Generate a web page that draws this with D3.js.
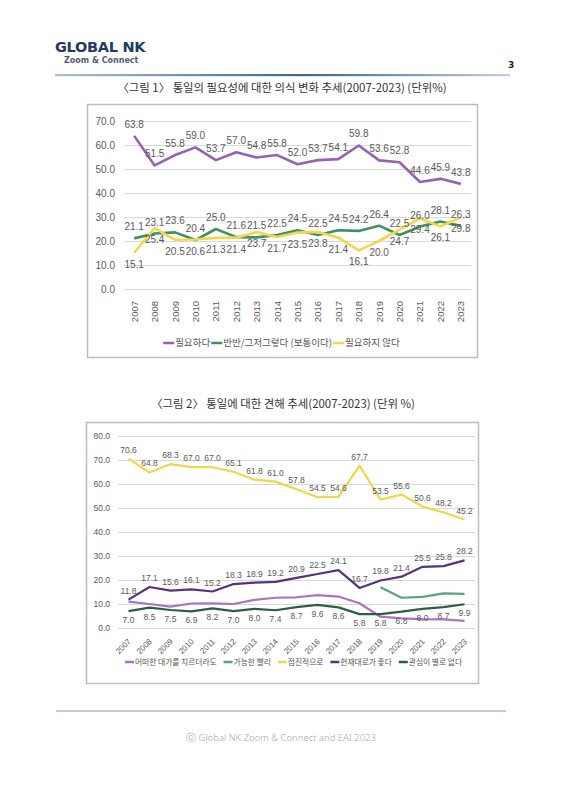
<!DOCTYPE html>
<html><head><meta charset="utf-8">
<script src="https://cdn.jsdelivr.net/npm/d3@7"></script>
<style>body{margin:0;background:#fff}svg{display:block}</style>
</head><body>
<script>
// ---------- DATA ----------
const years = ["2007","2008","2009","2010","2011","2012","2013","2014","2015","2016","2017","2018","2019","2020","2021","2022","2023"];
// Chart 1
const need      = [63.8,51.5,55.8,59.0,53.7,57.0,54.8,55.8,52.0,53.7,54.1,59.8,53.6,52.8,44.6,45.9,43.8];
const neutral   = [21.1,23.1,23.6,20.4,25.0,21.6,21.5,22.5,24.5,22.5,24.5,24.2,26.4,22.5,26.0,28.1,26.3];
const noNeed    = [15.1,25.4,20.5,20.6,21.3,21.4,23.7,21.7,23.5,23.8,21.4,16.1,20.0,24.7,29.4,26.1,29.8];
const yTicks1   = [0,10,20,30,40,50,60,70];
const names1    = ["필요하다","반반/그저그렇다 (보통이다)","필요하지 않다"];
// Chart 2
const anyCost   = [11.0,10.0,8.9,10.2,10.3,10.0,11.7,12.6,12.8,13.7,13.1,10.3,4.7,4.0,3.7,3.6,3.0];
const asap      = [null,null,null,null,null,null,null,null,null,null,null,null,17.0,12.6,13.0,14.4,14.2];
const gradual   = [70.6,64.8,68.3,67.0,67.0,65.1,61.8,61.0,57.8,54.5,54.6,67.7,53.5,55.6,50.6,48.2,45.2];
const statusQuo = [11.8,17.1,15.6,16.1,15.2,18.3,18.9,19.2,20.9,22.5,24.1,16.7,19.8,21.4,25.5,25.8,28.2];
const noInterest= [7.0,8.5,7.5,6.9,8.2,7.0,8.0,7.4,8.7,9.6,8.6,5.8,5.8,6.8,8.0,8.7,9.9];
const yTicks2   = [0,10,20,30,40,50,60,70,80];
const names2    = ["어떠한 대가를 치르더라도","가능한 빨리","점진적으로","현재대로가 좋다","관심이 별로 없다"];

// ---------- PAGE ----------
const W = 566, H = 800;
const svg = d3.select("body").append("svg").attr("width", W).attr("height", H);
svg.append("rect").attr("width", W).attr("height", H).attr("fill", "#fff");
const KR = "'Noto Sans CJK KR','Noto Sans',sans-serif";
const LAT = "'Liberation Sans',Arial,Helvetica,sans-serif";

// header
const defs = svg.append("defs");
const g1 = defs.append("linearGradient").attr("id","hdr").attr("x1","0%").attr("x2","100%");
g1.append("stop").attr("offset","0%").attr("stop-color","#aebfd0");
g1.append("stop").attr("offset","55%").attr("stop-color","#3d6690");
g1.append("stop").attr("offset","100%").attr("stop-color","#c3d0dc");
svg.append("text").attr("x",55).attr("y",51.5).attr("font-family","'DejaVu Sans',sans-serif")
  .attr("font-weight","bold").attr("font-size",14.5).attr("fill","#233a5e").attr("letter-spacing",-0.3).text("GLOBAL NK");
svg.append("text").attr("x",64).attr("y",63).attr("font-family","'DejaVu Sans',sans-serif")
  .attr("font-weight","bold").attr("font-size",8).attr("fill","#4d5c7a").text("Zoom & Connect");
svg.append("text").attr("x",508).attr("y",68).attr("font-family","'DejaVu Sans',sans-serif")
  .attr("font-weight","bold").attr("font-size",9).attr("fill","#222").text("3");
svg.append("rect").attr("x",55).attr("y",74).attr("width",455).attr("height",2.2).attr("fill","url(#hdr)");

// titles
svg.append("text").attr("x",282).attr("y",92).attr("text-anchor","middle").attr("font-family",KR)
  .attr("font-size",11.4).attr("fill","#333").text("〈그림 1〉 통일의 필요성에 대한 의식 변화 추세(2007-2023) (단위%)");
svg.append("text").attr("x",283).attr("y",408).attr("text-anchor","middle").attr("font-family",KR)
  .attr("font-size",11.4).attr("fill","#333").text("〈그림 2〉 통일에 대한 견해 추세(2007-2023) (단위 %)");

// footer
svg.append("line").attr("x1",56).attr("x2",506).attr("y1",711).attr("y2",711).attr("stroke","#a9bccd").attr("stroke-width",1.5);
svg.append("text").attr("x",281).attr("y",741).attr("text-anchor","middle").attr("font-family","'Noto Sans',sans-serif")
  .attr("font-weight",300).attr("font-size",9.5).attr("fill","#a8a8a8").text("ⓒ Global NK Zoom & Connect and EAI 2023");

// ---------- CHART helper ----------
function drawChart(o) {
  const g = svg.append("g");
  g.append("rect").attr("x",o.frame[0]).attr("y",o.frame[1]).attr("width",o.frame[2]).attr("height",o.frame[3])
    .attr("fill","#fff").attr("stroke","#bdbdbd").attr("stroke-width",1.5);
  const x = d3.scaleBand().domain(years).range(o.xr);
  const y = d3.scaleLinear().domain([0, d3.max(o.ticks)]).range(o.yr);
  const cx = d => x(d) + x.bandwidth()/2;
  // grid + y labels
  const yAxis = d3.axisLeft(y).tickValues(o.ticks).tickFormat(d3.format(".1f")).tickSize(-(o.xr[1]-o.xr[0])).tickPadding(o.tickPad);
  const ya = g.append("g").attr("transform",`translate(${o.xr[0]},0)`).call(yAxis);
  ya.select(".domain").remove();
  ya.selectAll(".tick line").attr("stroke","#d9d9d9").attr("stroke-width",1);
  ya.selectAll(".tick text").attr("font-family",LAT).attr("font-size",o.yFont).attr("fill","#595959");
  // x labels
  const xa = g.append("g").attr("transform",`translate(0,${o.xLabelY})`)
    .call(d3.axisBottom(x).tickSize(0).tickPadding(0));
  xa.select(".domain").remove();
  xa.selectAll(".tick text").attr("font-family",LAT).attr("font-size",o.xFont).attr("fill","#595959")
    .attr("text-anchor","end").attr("dy",0).attr("y",0)
    .attr("transform", o.xRot);
  // lines
  o.series.forEach(s => {
    const line = d3.line().defined(v => v != null).x((v,i) => cx(years[i])).y(v => y(v));
    g.append("path").datum(s.values).attr("d",line).attr("fill","none").attr("stroke",s.color)
      .attr("stroke-width",o.lw).attr("stroke-linejoin","round").attr("stroke-linecap","butt");
  });
  // labels
  o.series.forEach(s => {
    if (!s.label) return;
    g.append("g").selectAll("text").data(s.values.map((v,i)=>({v,i})).filter(d=>d.v!=null)).join("text")
      .attr("x", d => cx(years[d.i]) + (s.dx||0))
      .attr("y", d => y(d.v) + (s.label === "above" ? -o.labOff : o.labOff + o.labFont*0.7))
      .attr("text-anchor","middle").attr("font-family",LAT).attr("font-size",o.labFont).attr("fill","#595959")
      .text(d => d3.format(".1f")(d.v));
  });
  // legend: fit the whole row to the span [x0, x1] seen in the reference
  const L = o.legend;
  const lg = g.append("g");
  const n = L.items.length;
  const fixed = n*(L.sw+1) + (n-1)*L.gap;
  // measure texts at base size
  const probe = lg.append("text").attr("font-family",KR).attr("font-size",10);
  let tw = 0;
  L.items.forEach(it => { probe.text(it.name); tw += probe.node().getComputedTextLength(); });
  probe.remove();
  const fs = Math.min(L.maxFont, 10 * (L.x1 - L.x0 - fixed) / tw);
  let cur = 0;
  L.items.forEach((it,k) => {
    const ig = lg.append("g").attr("transform",`translate(${cur},0)`);
    ig.append("line").attr("x1",0).attr("x2",L.sw).attr("y1",L.y).attr("y2",L.y)
      .attr("stroke",it.color).attr("stroke-width",2.5);
    const t = ig.append("text").attr("x",L.sw+1).attr("y",L.y).attr("dy","0.36em")
      .attr("font-family",KR).attr("font-size",fs).attr("fill","#555").text(it.name);
    cur += L.sw + 1 + t.node().getComputedTextLength() + (k < n-1 ? L.gap : 0);
  });
  lg.attr("transform",`translate(${(L.x0+L.x1)/2 - cur/2},0)`);
}

// chart 1
const c1 = ["#9563b3","#3e9160","#f2d64b"];
drawChart({
  frame:[87.5,104.5,390,253], xr:[124,471], yr:[289,121], ticks:yTicks1, tickPad:9,
  yFont:10, xFont:9.5, labFont:10, labOff:8, lw:2.6,
  xLabelY:301, xRot:"rotate(-90) translate(0,3.5)",
  series:[
    {values:need, color:c1[0], label:"above"},
    {values:neutral, color:c1[1], label:"above"},
    {values:noNeed, color:c1[2], label:"below"}
  ],
  legend:{y:343, sw:11, gap:1, x0:163, x1:400, maxFont:10, items:names1.map((n,i)=>({name:n,color:c1[i]}))}
});

// chart 2
const c2 = ["#a775c4","#5aa578","#f2d64b","#56327c","#2f5d3f"];
drawChart({
  frame:[86.5,422.5,392,261], xr:[118,475], yr:[628,436], ticks:yTicks2, tickPad:8,
  yFont:8.5, xFont:8, labFont:8.5, labOff:6, lw:2.2,
  xLabelY:642, xRot:"translate(3,0) rotate(-45)",
  series:[
    {values:anyCost, color:c2[0]},
    {values:asap, color:c2[1]},
    {values:gradual, color:c2[2], label:"above"},
    {values:statusQuo, color:c2[3], label:"above"},
    {values:noInterest, color:c2[4], label:"below"}
  ],
  legend:{y:662, sw:9, gap:7, x0:125, x1:462, maxFont:9, items:names2.map((n,i)=>({name:n,color:c2[i]}))}
});
</script>
</body></html>
